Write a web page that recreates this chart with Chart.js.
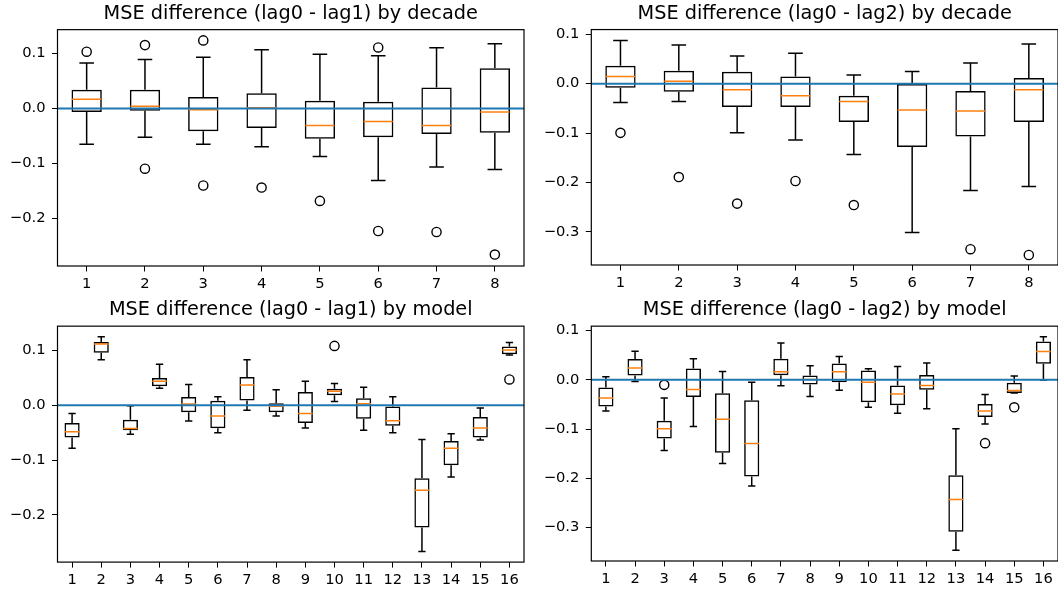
<!DOCTYPE html>
<html>
<head>
<meta charset="utf-8">
<script src="https://cdn.jsdelivr.net/npm/chart.js@4/dist/chart.umd.min.js"></script>
<style>
  html, body { margin: 0; padding: 0; background: #fff; overflow: hidden; width: 1058px; height: 592px; }
  canvas { position: absolute; }
</style>
</head>
<body>
<canvas id="c1" width="530" height="290" style="left:0px;top:0px"></canvas>
<canvas id="c2" width="534" height="290" style="left:530px;top:0px"></canvas>
<canvas id="c3" width="530" height="302" style="left:0px;top:290px"></canvas>
<canvas id="c4" width="534" height="302" style="left:530px;top:290px"></canvas>
<script>
// ---------- categories & tick labels ----------
const decades = [1, 2, 3, 4, 5, 6, 7, 8];
const decadeLabels = ['1', '2', '3', '4', '5', '6', '7', '8'];
const models = [1, 2, 3, 4, 5, 6, 7, 8, 9, 10, 11, 12, 13, 14, 15, 16];
const modelLabels = ['1','2','3','4','5','6','7','8','9','10','11','12','13','14','15','16'];
const yTicksLag1 = [0.1, 0.0, -0.1, -0.2];
const yTicksLag2 = [0.1, 0.0, -0.1, -0.2, -0.3];

// ---------- panel 1: lag0 - lag1 by decade ----------
const dec1Lo  = [-0.065, -0.0526, -0.065, -0.0697, -0.0875, -0.131, -0.1064, -0.111];
const dec1Q1  = [-0.0067, -0.0043, -0.0416, -0.0355, -0.055, -0.0526, -0.0465, -0.044];
const dec1Med = [0.0165, 0.0037, -0.0024, 0.001, -0.0312, -0.0239, -0.0312, -0.0067];
const dec1Q3  = [0.034, 0.034, 0.0208, 0.0275, 0.014, 0.0122, 0.0379, 0.0728];
const dec1Hi  = [0.0826, 0.0887, 0.093, 0.1064, 0.0985, 0.0954, 0.110, 0.1174];
const dec1Out = [[1, 0.103], [2, 0.115], [2, -0.1095], [3, 0.1235], [3, -0.14], [4, -0.1437],
                 [5, -0.168], [6, 0.1107], [6, -0.2226], [7, -0.2245], [8, -0.2654]];

// ---------- panel 2: lag0 - lag2 by decade ----------
const dec2Lo  = [-0.0382, -0.0361, -0.0995, -0.114, -0.1433, -0.301, -0.2164, -0.208];
const dec2Q1  = [-0.0082, -0.0164, -0.047, -0.047, -0.0778, -0.128, -0.107, -0.0778];
const dec2Med = [0.0143, 0.0048, -0.0123, -0.0245, -0.0362, -0.0532, -0.0553, -0.0123];
const dec2Q3  = [0.0361, 0.0259, 0.0239, 0.0143, -0.0245, -0.0007, -0.015, 0.0116];
const dec2Hi  = [0.0872, 0.0784, 0.056, 0.0614, 0.0177, 0.0246, 0.0416, 0.0805];
const dec2Out = [[1, -0.0995], [2, -0.189], [3, -0.2427], [4, -0.197], [5, -0.2457], [7, -0.335], [8, -0.3468]];

// ---------- panel 3: lag0 - lag1 by model ----------
const mod1Lo  = [-0.0785, 0.0828, -0.0528, 0.0307, -0.0288, -0.0503, -0.0092, -0.0196, -0.0417, 0.0068, -0.0454, -0.0503, -0.2663, -0.1307, -0.0632, 0.0915];
const mod1Q1  = [-0.0589, 0.0957, -0.0454, 0.0344, -0.013, -0.042, 0.0086, -0.0129, -0.0325, 0.018, -0.0245, -0.0374, -0.2227, -0.1092, -0.0589, 0.093];
const mod1Med = [-0.0485, 0.1117, -0.0423, 0.0436, 0.0022, -0.0196, 0.0368, -0.0018, -0.0153, 0.0253, 0.0025, -0.0282, -0.155, -0.0785, -0.0417, 0.1004];
const mod1Q3  = [-0.0325, 0.1153, -0.0264, 0.0497, 0.015, 0.008, 0.0515, 0.0037, 0.0239, 0.030, 0.0129, -0.0025, -0.1331, -0.065, -0.0215, 0.107];
const mod1Hi  = [-0.0153, 0.1245, -0.0012, 0.0748, 0.0375, 0.0155, 0.0828, 0.0282, 0.0436, 0.0395, 0.0325, 0.0153, -0.0626, -0.0521, -0.0049, 0.1144];
const mod1Out = [[10, 0.108], [16, 0.0469]];

// ---------- panel 4: lag0 - lag2 by model ----------
const mod2Lo  = [-0.0633, -0.0034, -0.1435, -0.0946, -0.17, -0.2156, -0.0122, -0.034, -0.0211, -0.0558, -0.068, -0.059, -0.3463, -0.0898, -0.027, -0.0006];
const mod2Q1  = [-0.0544, 0.0088, -0.119, -0.0347, -0.1483, -0.1966, 0.0095, -0.0095, -0.0048, -0.0456, -0.0515, -0.0204, -0.3088, -0.0755, -0.0266, 0.0327];
const mod2Med = [-0.0367, 0.0238, -0.0993, -0.0197, -0.0803, -0.1293, 0.0163, 0.0007, 0.0163, -0.0048, -0.0288, -0.0115, -0.2429, -0.0633, -0.0217, 0.0573];
const mod2Q3  = [-0.0156, 0.0422, -0.083, 0.0231, -0.0272, -0.0415, 0.0429, 0.0088, 0.0333, 0.019, -0.0115, 0.0096, -0.1939, -0.049, -0.006, 0.0777];
const mod2Hi  = [0.0061, 0.0578, -0.0367, 0.0429, 0.017, -0.0048, 0.0748, 0.0286, 0.0476, 0.0224, 0.0272, 0.034, -0.0993, -0.0299, 0.0076, 0.0873];
const mod2Out = [[3, -0.0102], [14, -0.1286], [15, -0.0558]];

// ---------- drawing ----------
const FONT = 'DejaVu Sans';
const BLACK = '#000000';
const framePlugin = {
  id: 'frame',
  afterDraw(chart) {
    const a = chart.chartArea, c = chart.ctx;
    c.save();
    c.strokeStyle = BLACK; c.lineWidth = 1.2;
    c.strokeRect(a.left, a.top, a.right - a.left, a.bottom - a.top);
    c.restore();
  }
};

function fmtTick(v) {
  const s = Math.abs(v) < 1e-9 ? '0.0' : v.toFixed(1);
  return s.replace('-', '\u2212');
}

function makeChart(id, p) {
  const cats = p.cats;
  const n = cats.length;
  const xMin = cats[0] - 0.5, xMax = cats[n - 1] + 0.5;
  const whisk = [], caps = [], meds = [], boxes = [], outs = [];
  cats.forEach((c, i) => {
    whisk.push({x: c, y: p.lo[i]}, {x: c, y: p.q1[i]}, {x: c, y: NaN},
               {x: c, y: p.q3[i]}, {x: c, y: p.hi[i]}, {x: c, y: NaN});
    caps.push({x: c, y: p.lo[i]}, {x: c, y: p.hi[i]});
    meds.push({x: c, y: p.med[i]});
    boxes.push({x: c, y: [p.q1[i], p.q3[i]]});
  });
  p.out.forEach(o => outs.push({x: o[0], y: o[1]}));
  const frac = f => ctx => {
    const s = ctx.chart.scales.x;
    return Math.abs(s.getPixelForValue(cats[0] + f) - s.getPixelForValue(cats[0]));
  };
  new Chart(document.getElementById(id), {
    type: 'bar',
    data: {
      datasets: [
        { type: 'line', data: [{x: xMin, y: 0}, {x: xMax, y: 0}], borderColor: '#1f77b4',
          borderWidth: 2, pointRadius: 0, fill: false },
        { type: 'line', data: meds, showLine: false, pointStyle: 'line', pointRadius: frac(0.25),
          pointBorderColor: '#ff7f0e', pointBorderWidth: 1.5 },
        { type: 'line', data: caps, showLine: false, pointStyle: 'line', pointRadius: frac(0.125),
          pointBorderColor: BLACK, pointBorderWidth: 1.5 },
        { type: 'line', data: outs, showLine: false, pointStyle: 'circle', pointRadius: 4.6,
          pointBorderColor: BLACK, pointBackgroundColor: 'rgba(0,0,0,0)', pointBorderWidth: 1.4 },
        { type: 'line', data: whisk, showLine: true, spanGaps: false, borderColor: BLACK,
          borderWidth: 1.5, pointRadius: 0, fill: false },
        { type: 'bar', data: boxes, backgroundColor: 'rgba(0,0,0,0)', borderColor: BLACK,
          borderWidth: 1.5, borderSkipped: false, grouped: false, barPercentage: 0.52, categoryPercentage: 1 }
      ]
    },
    options: {
      responsive: false,
      animation: false,
      events: [],
      layout: { padding: { left: 0, right: p.padRight, top: 0, bottom: 0 } },
      plugins: {
        legend: { display: false },
        tooltip: { enabled: false },
        title: {
          display: true, text: p.title, fullSize: false, color: BLACK,
          font: { family: FONT, size: 19.3, weight: 'normal' },
          padding: { top: p.titleTop, bottom: p.titleBottom }
        }
      },
      scales: {
        x: {
          type: 'linear', min: xMin, max: xMax, offset: false,
          afterBuildTicks: s => { s.ticks = cats.map(v => ({value: v})); },
          afterFit: s => { s.height = p.xAxisH; },
          ticks: { autoSkip: false, maxRotation: 0, color: BLACK, padding: 4,
                   font: { family: FONT, size: 14.7 },
                   callback: v => p.xLabels[cats.indexOf(v)] },
          grid: { drawOnChartArea: false, drawTicks: true, tickLength: 5.5, tickColor: BLACK, tickWidth: 1, offset: false },
          border: { display: false }
        },
        y: {
          min: p.yMin, max: p.yMax,
          afterBuildTicks: s => { s.ticks = p.yTicks.map(v => ({value: v})); },
          afterFit: s => { s.width = p.yAxisW; },
          ticks: { color: BLACK, padding: 6.5, font: { family: FONT, size: 14.7 },
                   callback: v => fmtTick(v) },
          grid: { drawOnChartArea: false, drawTicks: true, tickLength: 5.5, tickColor: BLACK, tickWidth: 1 },
          border: { display: false }
        }
      }
    },
    plugins: [framePlugin]
  });
}

makeChart('c1', { cats: decades, xLabels: decadeLabels, lo: dec1Lo, q1: dec1Q1, med: dec1Med, q3: dec1Q3, hi: dec1Hi, out: dec1Out,
  yMin: -0.2862, yMax: 0.1430, yTicks: yTicksLag1, title: 'MSE difference (lag0 - lag1) by decade',
  yAxisW: 57.5, xAxisH: 24, padRight: 1.7, titleTop: 2, titleBottom: 4.5 });
makeChart('c2', { cats: decades, xLabels: decadeLabels, lo: dec2Lo, q1: dec2Q1, med: dec2Med, q3: dec2Q3, hi: dec2Hi, out: dec2Out,
  yMin: -0.3670, yMax: 0.1095, yTicks: yTicksLag2, title: 'MSE difference (lag0 - lag2) by decade',
  yAxisW: 61.3, xAxisH: 25, padRight: 2.2, titleTop: 2, titleBottom: 4.4 });
makeChart('c3', { cats: models, xLabels: modelLabels, lo: mod1Lo, q1: mod1Q1, med: mod1Med, q3: mod1Q3, hi: mod1Hi, out: mod1Out,
  yMin: -0.2858, yMax: 0.1440, yTicks: yTicksLag1, title: 'MSE difference (lag0 - lag1) by model',
  yAxisW: 57.5, xAxisH: 29.9, padRight: 1.4, titleTop: 8.2, titleBottom: 4.8 });
makeChart('c4', { cats: models, xLabels: modelLabels, lo: mod2Lo, q1: mod2Q1, med: mod2Med, q3: mod2Q3, hi: mod2Hi, out: mod2Out,
  yMin: -0.3680, yMax: 0.1090, yTicks: yTicksLag2, title: 'MSE difference (lag0 - lag2) by model',
  yAxisW: 61.3, xAxisH: 31, padRight: 0.7, titleTop: 8.2, titleBottom: 4.8 });
</script>
</body>
</html>
